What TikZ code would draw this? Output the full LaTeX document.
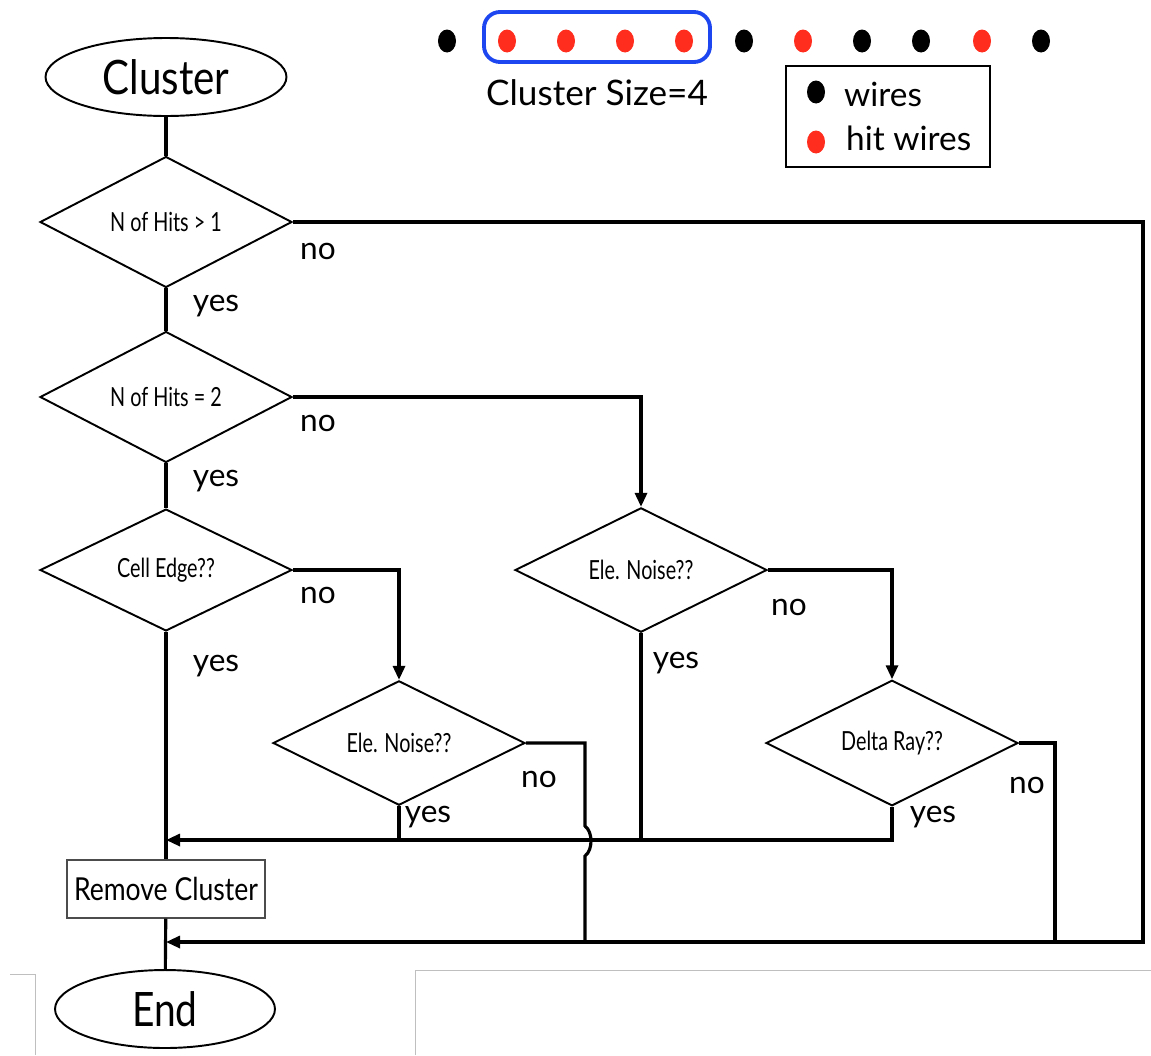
\documentclass[tikz,border=0pt]{standalone}
\usepackage{fontspec}
\setmainfont{Lato}
\usetikzlibrary{shapes.geometric}
\usetikzlibrary{arrows.meta}
\usetikzlibrary{positioning}
\definecolor{clusterblue}{RGB}{30,70,240}
\definecolor{hitred}{RGB}{255,45,30}

\begin{document}
\begin{tikzpicture}[x=0.02cm,y=-0.02cm,
  term/.style={ellipse,draw,line width=1.1pt,minimum width=4.82cm,minimum height=1.56cm,inner sep=0pt,font=\fontsize{27}{30}\selectfont},
  decision/.style={diamond,draw,line width=1.1pt,minimum width=5.04cm,minimum height=2.42cm,inner sep=0pt,font=\fontsize{15}{17}\selectfont},
  process/.style={rectangle,draw=black!70,line width=0.6pt,minimum width=3.96cm,minimum height=1.16cm,inner sep=0pt,font=\fontsize{18}{20}\selectfont},
  flow/.style={line width=1.8pt},
  arr/.style={flow,-{Triangle[length=0.28cm,width=0.24cm]}},
  lbl/.style={font=\fontsize{18}{20}\selectfont,inner sep=0pt},
  wire/.style={ellipse,fill=black,minimum width=0.36cm,minimum height=0.46cm,inner sep=0pt},
  hit/.style={wire,fill=hitred}]
\useasboundingbox (0,0) rectangle (1151,1055);

% page edges
\draw[black!25,line width=0.5pt] (10,974) -- (35,974) -- (35,1055);
\draw[black!25,line width=0.5pt] (415,1055) -- (415,970) -- (1151,970);

% wires
\foreach \x/\s [count=\i] in {447/wire,507/hit,566/hit,625/hit,684/hit,744/wire,803/hit,862/wire,921/wire,982/hit,1041/wire}
  \node[style=\s] (w\i) at (\x,41) {};
\draw[clusterblue,line width=2.2pt,rounded corners=0.32cm] (484,12) rectangle (710,62);
\node[font=\fontsize{20}{22}\selectfont] (size) at (597,93) {Cluster Size=4};

% legend
\draw[line width=1.1pt] (786,66) rectangle (990,167);
\node[wire] (lw) at (816,92) {};
\node[anchor=west,font=\fontsize{19}{21}\selectfont] (lwt) at (838,94) {wires};
\node[hit] (lh) at (816,142) {};
\node[anchor=west,font=\fontsize{19}{21}\selectfont] (lht) at (840,138) {hit wires};

% flow chart
\node[term] (start) at (166,77) {\scalebox{0.85}[1]{Cluster}};
\node[decision] (hits1) at (166,222) {\scalebox{0.75}[1]{N of Hits > 1}};
\node[decision] (hits2) at (166,397) {\scalebox{0.75}[1]{N of Hits = 2}};
\node[decision] (edge) at (166,570) {\scalebox{0.75}[1]{Cell Edge??}};
\node[decision] (noiseA) at (641,570) {\scalebox{0.75}[1]{Ele. Noise??}};
\node[decision] (noiseB) at (399,743) {\scalebox{0.75}[1]{Ele. Noise??}};
\node[decision] (delta) at (892,743) {\scalebox{0.75}[1]{Delta Ray??}};
\node[process] (remove) at (166,889) {\scalebox{0.84}[1]{Remove Cluster}};
\node[term,minimum width=4.4cm] (stop) at (165,1009) {\scalebox{0.82}[1]{End}};

\coordinate (jRemove) at (166,840);
\coordinate (jEnd) at (166,942);
\coordinate (hopTop) at (585,826);
\coordinate (hopBot) at (585,856);
\coordinate (farRight) at (1143,942);
\coordinate (noiseDown) at (585,942);
\coordinate (deltaDown) at (1055,942);

\draw[flow] (start) -- (hits1);
\draw[flow] (hits1) -- (hits2);
\draw[flow] (hits2) -- (edge);
\draw[flow] (edge) -- (remove);
\draw[flow] (remove) -- (stop);
\draw[arr] (hits1.east) -| (farRight) -- (jEnd);
\draw[arr] (hits2.east) -| (noiseA.north);
\draw[arr] (edge.east) -| (noiseB.north);
\draw[arr] (noiseA.east) -| (delta.north);
\draw[arr] (delta.south) |- (jRemove);
\draw[flow] (noiseA.south) -- (noiseA.south |- jRemove);
\draw[flow] (noiseB.south) -- (noiseB.south |- jRemove);
\draw[flow] (noiseB.east) -| (hopTop) .. controls +(8,6) and +(8,-6) .. (hopBot) -- (noiseDown);
\draw[flow] (delta.east) -| (deltaDown);

% yes / no
\node[lbl] (no1) at (318,251) {no};
\node[lbl] (yes1) at (216,306) {yes};
\node[lbl] (no2) at (318,423) {no};
\node[lbl] (yes2) at (216,481) {yes};
\node[lbl] (no3) at (318,595) {no};
\node[lbl] (yes3) at (216,666) {yes};
\node[lbl] (no4) at (789,607) {no};
\node[lbl] (yes4) at (676,663) {yes};
\node[lbl] (no5) at (539,779) {no};
\node[lbl] (yes5) at (428,817) {yes};
\node[lbl] (no6) at (1027,785) {no};
\node[lbl] (yes6) at (933,817) {yes};

\end{tikzpicture}
\end{document}
